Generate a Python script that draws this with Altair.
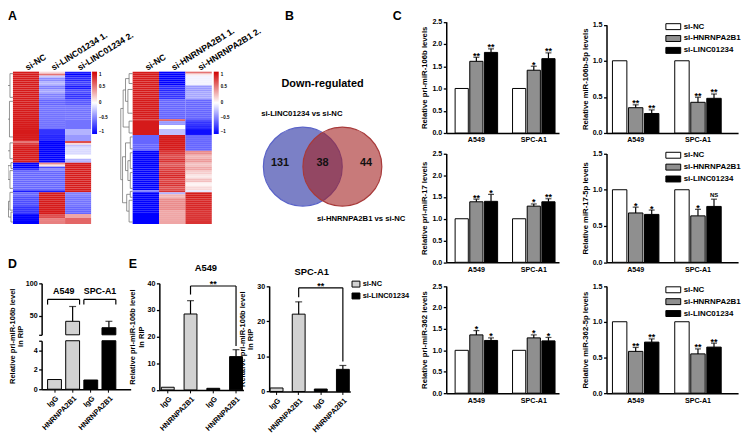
import altair as alt
import pandas as pd

# ------------------------------------------------------------------ data
HM1_COLS = ["si-NC", "si-LINC01234 1.", "si-LINC01234 2."]
HM1_ROWS = [1, 1, 1, 2, 2, 2, 2, 3, 3, 12, 3, 3, 1, 1, 1, 4, 2, 2, 1, 1, 1, 1, 10, 1, 2, 5, 4, 2, 3]
HM1_NC = [0.9, 0.9, 0.9, 0.9, 0.9, 0.9, 0.9, 0.9, 0.9, 0.9, 0.9, 0.9, 0.55, 0.75, 0.85, 0.9, 0.9, 0.9,
          -1, -1, -1, -0.8, -0.6, -0.9, -0.6, -0.7, -0.8, -1, -1]
HM1_K1 = [0.15, 0.55, -0.2, -0.45, -0.3, -0.5, -0.35, -0.5, -0.6, -0.55, -0.8, -0.85, -1, -1, -1, -1, -1, -1,
          0.45, 0.1, -0.7, -0.45, -0.6, -0.9, 0.9, 0.9, 0.9, 0.7, 0.5]
HM1_K2 = [-0.9, -1, -0.9, -0.85, -0.75, -0.9, -0.7, -0.8, -0.65, -0.55, -0.3, -0.4, 0.7, 0.15, -0.25, -0.15, 0.0, -0.3,
          0.9, 0.9, 0.9, 0.9, 0.9, 0.9, -0.5, -0.55, -0.6, 0.35, 0.6]
# dendrogram merges (row units): span y1..y2 joined at height h, children at heights h1 / h2
DEN1_Y1 = [1, 15, 7, 36, 15.5, 46, 50, 47.5, 61, 71, 65.5, 51, 27.75]
DEN1_Y2 = [13, 33, 24, 44, 40, 49, 59, 54.5, 70, 76, 73.5, 69.5, 60.25]
DEN1_H = [3, 3.5, 6, 3, 8, 2, 3, 5, 3, 2, 4.5, 7, 10]
DEN1_H1 = [0, 0, 3, 0, 6, 0, 0, 2, 0, 0, 3, 5, 8]
DEN1_H2 = [0, 0, 3.5, 0, 3, 0, 0, 3, 0, 0, 2, 4.5, 7]

HM2_COLS = ["si-NC", "si-HNRNPA2B1 1.", "si-HNRNPA2B1 2."]
HM2_ROWS = [1, 1, 5, 3, 4, 10, 1, 2, 2, 3, 8, 2, 2, 2, 2, 2, 2, 2, 2, 2, 2, 1, 1, 2, 6, 7]
HM2_NC = [0.9, 0.9, 0.9, 0.9, 0.9, 0.9, 0.8, 0.9, 0.9, 0.9, -0.6, -1, -1, -1, -1, -1, -1, -1, -1, -1, -1,
          -0.5, -1, -1, -1, -1]
HM2_K1 = [-1, -1, -1, -0.85, -0.8, -0.6, 0.6, -0.4, 0.0, -0.25, 0.9, 0.8, 0.7, 0.8, 0.65, 0.75, 0.8, 0.85, 0.75,
          0.8, 0.7, 0.8, -0.3, 0.3, 0.45, 0.35]
HM2_K2 = [0.55, 0.1, -0.05, -0.4, -0.35, -0.6, -0.7, -0.8, -0.85, -0.95, -0.6, 0.45, 0.3, 0.4, 0.25, 0.35, 0.2,
          0.1, 0.25, 0.05, 0.15, -0.1, 0.9, 0.9, 0.85, 0.8]
DEN2_Y1 = [1, 9, 3.5, 25, 9.25, 33, 41, 51, 45, 36, 60.5, 65, 62, 43, 18.6]
DEN2_Y2 = [6, 21, 15, 31, 28, 39, 49, 59, 55, 50, 63.5, 76, 70.5, 66.25, 54.6]
DEN2_H = [3, 4, 6, 3, 8, 2, 2, 2, 4, 6, 2, 3, 5, 8.5, 10]
DEN2_H1 = [0, 0, 3, 0, 6, 0, 0, 0, 2, 2, 0, 0, 2, 6, 8]
DEN2_H2 = [0, 0, 4, 0, 3, 0, 0, 0, 2, 4, 0, 0, 3, 5, 8.5]
HM_TICKS = [1, 0.5, 0, -0.5, -1]

VENN_TITLE = "Down-regulated"
VENN_SETS = ["si-LINC01234 vs si-NC", "si-HNRNPA2B1 vs si-NC"]
VENN_COUNTS = ["131", "38", "44"]

CELLS = ["A549", "SPC-A1"]
SI = ["si-NC", "si-HNRNPA2B1", "si-LINC01234"]
C_TITLES = ["Relative pri-miR-106b levels", "Relative miR-106b-5p levels",
            "Relative pri-miR-17 levels", "Relative miR-17-5p levels",
            "Relative pri-miR-362 levels", "Relative miR-362-5p levels"]
# order: A549 (NC, HNRNPA2B1, LINC01234), SPC-A1 (NC, HNRNPA2B1, LINC01234)
C_MEANS = [[1.0, 1.61, 1.81, 1.0, 1.41, 1.67],
           [1.0, 0.35, 0.27, 1.0, 0.425, 0.48],
           [1.0, 1.39, 1.40, 1.0, 1.29, 1.39],
           [1.0, 0.68, 0.66, 1.0, 0.64, 0.77],
           [1.0, 1.36, 1.23, 1.0, 1.29, 1.22],
           [1.0, 0.585, 0.715, 1.0, 0.55, 0.645]]
C_ERRS = [[0, 0.09, 0.08, 0, 0.09, 0.13],
          [0, 0.04, 0.05, 0, 0.07, 0.06],
          [0, 0.06, 0.16, 0, 0.05, 0.07],
          [0, 0.08, 0.06, 0, 0.09, 0.10],
          [0, 0.10, 0.06, 0, 0.07, 0.08],
          [0, 0.055, 0.045, 0, 0.07, 0.055]]
C_SIGS = [["", "**", "**", "", "*", "**"],
          ["", "**", "**", "", "**", "**"],
          ["", "**", "*", "", "*", "**"],
          ["", "*", "*", "", "*", "NS"],
          ["", "*", "*", "", "*", "*"],
          ["", "**", "**", "", "**", "**"]]

RIP_AB = ["IgG", "HNRNPA2B1", "IgG", "HNRNPA2B1"]
RIP_TITLE = ["Relative pri-miR-106b level", "In RIP"]
D_CELL = ["A549", "A549", "SPC-A1", "SPC-A1"]
D_MEAN = [1.0, 41.0, 0.95, 31.0]
D_ERR = [0, 23.0, 0, 10.0]

E_SI = ["si-NC", "si-NC", "si-LINC01234", "si-LINC01234"]
E_LEGEND = ["si-NC", "si-LINC01234"]
E_TITLES = ["A549", "SPC-A1"]
E1_MEAN = [1.0, 28.5, 0.6, 12.5]
E1_ERR = [0, 5.0, 0, 2.6]
E2_MEAN = [1.0, 22.0, 0.7, 6.3]
E2_ERR = [0, 3.5, 0, 1.1]

# ------------------------------------------------------------------ layout / style
W, H = 746, 433
FONT = "Liberation Sans"
GRAY = "#8f8f8f"
LIGHT = "#d2d2d2"
N_ROWS = 77


def ax_left(x, title=None, values=None, **kw):
    d = dict(orient="left", offset=-x, title=title, values=values, tickSize=3, tickWidth=1.3,
             domainWidth=1.5, labelFontSize=7.2, titleFontSize=7.8, labelPadding=1.5,
             titlePadding=3, grid=False, labelOverlap=False)
    d.update(kw)
    return alt.Axis(**d)


def ax_bottom(y, **kw):
    d = dict(orient="bottom", offset=y - H, title=None, domainWidth=1.5, labelFontSize=7.2,
             labelPadding=3, grid=False, labelOverlap=False)
    d.update(kw)
    return alt.Axis(**d)


def text_at(txt, x, y, size, align="left", baseline="top"):
    return alt.Chart(pd.DataFrame({"t": [txt]})).mark_text(
        fontSize=size, fontWeight="bold", align=align, baseline=baseline, font=FONT, color="black"
    ).encode(x=alt.value(x), y=alt.value(y), text="t:N")


# ------------------------------------------------------------------ A: heatmaps
def hm_frame(cols, rows, a, b, c):
    recs, r = [], 0
    for n, va, vb, vc in zip(rows, a, b, c):
        for _ in range(n):
            for col, v in zip(cols, (va, vb, vc)):
                recs.append({"row": r, "col": col, "v": v})
            r += 1
    return pd.DataFrame(recs)


def heatmap(df, cols, xr, yr, lx, ly):
    cs = alt.Scale(domain=[-1, 0, 1], range=["#0000ff", "#ffffff", "#d00000"], interpolate="rgb")
    return alt.Chart(df).mark_rect(strokeWidth=0).encode(
        x=alt.X("col:N", sort=cols,
                scale=alt.Scale(domain=cols, range=xr, paddingInner=0, paddingOuter=0),
                axis=alt.Axis(orient="top", offset=-yr[0], title=None, domain=False, ticks=False,
                              labelAngle=-32, labelAlign="left", labelBaseline="middle",
                              labelFontSize=8.8, labelPadding=4, labelOverlap=False)),
        y=alt.Y("row:O", scale=alt.Scale(range=yr, paddingInner=0, paddingOuter=0), axis=None),
        color=alt.Color("v:Q", scale=cs,
                        legend=alt.Legend(type="gradient", orient="none", legendX=lx, legendY=ly,
                                          direction="vertical", title=None, gradientLength=63,
                                          gradientThickness=5, values=HM_TICKS, format="~g",
                                          labelFontSize=4.5, labelOffset=2, labelOverlap=False,
                                          gradientStrokeWidth=0)),
    )


def dendrogram(y1, y2, h, h1, h2, xr, yr):
    segs = []
    for a, b, hh, ha, hb in zip(y1, y2, h, h1, h2):
        segs.append({"x": hh, "x2": hh, "y": a, "y2": b})
        segs.append({"x": ha, "x2": hh, "y": a, "y2": a})
        segs.append({"x": hb, "x2": hh, "y": b, "y2": b})
    return alt.Chart(pd.DataFrame(segs)).mark_rule(color="#666", strokeWidth=0.7).encode(
        x=alt.X("x:Q", scale=alt.Scale(domain=[0, 10], range=xr, nice=False), axis=None),
        x2="x2:Q",
        y=alt.Y("y:Q", scale=alt.Scale(domain=[0, N_ROWS], range=yr, nice=False), axis=None),
        y2="y2:Q")


hm1 = heatmap(hm_frame(HM1_COLS, HM1_ROWS, HM1_NC, HM1_K1, HM1_K2), HM1_COLS, [5, 84], [62, 216], 85, 62)
hm2 = heatmap(hm_frame(HM2_COLS, HM2_ROWS, HM2_NC, HM2_K1, HM2_K2), HM2_COLS, [126, 206], [62, 216], 208, 62)
den1 = dendrogram(DEN1_Y1, DEN1_Y2, DEN1_H, DEN1_H1, DEN1_H2, [5, -5], [62, 216])
den2 = dendrogram(DEN2_Y1, DEN2_Y2, DEN2_H, DEN2_H1, DEN2_H2, [126, 114], [62, 216])

# ------------------------------------------------------------------ B: Venn
vx = alt.Scale(domain=[-4, 4], range=[238, 398], nice=False, zero=False)
vy = alt.Scale(domain=[-4, 4], range=[238, 78], nice=False, zero=False)
venn_sets = pd.DataFrame({"set": VENN_SETS, "cx": [-1, 1]})
circles = alt.Chart(venn_sets).mark_circle(size=6360, strokeWidth=1.2, opacity=1).encode(
    x=alt.X("cx:Q", scale=vx, axis=None),
    y=alt.YDatum(0, type="quantitative", scale=vy, axis=None),
    fill=alt.Fill("set:N", scale=alt.Scale(domain=VENN_SETS, range=["#7b80c6", "#a32121"]), legend=None),
    fillOpacity=alt.FillOpacity("set:N", scale=alt.Scale(domain=VENN_SETS, range=[1, 0.6]), legend=None),
    stroke=alt.Stroke("set:N", scale=alt.Scale(domain=VENN_SETS, range=["#5a63c8", "#a83a3a"]), legend=None),
)
venn_counts = pd.DataFrame({"t": VENN_COUNTS, "x": [-2.15, 0, 2.2], "y": [0.2, 0.2, 0.2]})
counts = alt.Chart(venn_counts).mark_text(fontSize=11, fontWeight="bold", font=FONT, color="#111").encode(
    x=alt.X("x:Q", scale=vx, axis=None), y=alt.Y("y:Q", scale=vy, axis=None), text="t:N")
venn_labels = pd.DataFrame({"t": VENN_SETS + [VENN_TITLE], "x": [-1.05, 1.95, 0], "y": [2.65, -2.65, 4.15],
                            "s": ["set", "set", "title"]})
vlab = alt.Chart(venn_labels).transform_filter("datum.s == 'set'").mark_text(
    fontSize=7.8, fontWeight="bold", font=FONT, color="black").encode(
    x=alt.X("x:Q", scale=vx, axis=None), y=alt.Y("y:Q", scale=vy, axis=None), text="t:N")
vtitle = alt.Chart(venn_labels).transform_filter("datum.s == 'title'").mark_text(
    fontSize=11, fontWeight="bold", font=FONT, color="black").encode(
    x=alt.X("x:Q", scale=vx, axis=None), y=alt.Y("y:Q", scale=vy, axis=None), text="t:N")
venn = alt.layer(circles, counts, vlab, vtitle)


# ------------------------------------------------------------------ C: bar panels
def c_panel(i, xr, yr, ymax, right, legend_y=None):
    df = pd.DataFrame({"cell": [c for c in CELLS for _ in SI], "si": SI * 2,
                       "mean": C_MEANS[i], "err": C_ERRS[i], "sig": C_SIGS[i]})
    df["top"] = df["mean"] + df["err"]
    if right:
        pi, po, al = 0.254, 0.183, 0.26
    else:
        pi, po, al = 0.26, 0.112, 0.69
    xs = alt.Scale(domain=CELLS, range=xr, paddingInner=pi, paddingOuter=po, align=al)
    x = alt.X("cell:N", scale=xs, axis=ax_bottom(yr[0], labelAngle=0, ticks=False))
    xo = alt.XOffset("si:N", scale=alt.Scale(domain=SI, paddingInner=0.1, paddingOuter=0))
    vals = [v * 0.5 for v in range(int(ymax * 2) + 1)]
    ys = alt.Scale(domain=[0, ymax], range=yr, nice=False, zero=True)
    if legend_y is not None:
        leg = alt.Legend(orient="none", legendX=668, legendY=legend_y, title=None,
                         symbolType="M-2,-0.8H2V0.8H-2Z", symbolSize=56.25, symbolStrokeColor="black",
                         symbolStrokeWidth=1, labelFontSize=8, labelOffset=6, rowPadding=1)
    else:
        leg = None
    base = alt.Chart(df)
    bars = base.mark_bar(stroke="black", strokeWidth=1).encode(
        x=x, xOffset=xo,
        y=alt.Y("mean:Q", scale=ys, stack=None, axis=ax_left(xr[0], C_TITLES[i], vals, format=".1f")),
        fill=alt.Fill("si:N", scale=alt.Scale(domain=SI, range=["white", GRAY, "black"]), legend=leg),
    )
    eb = base.transform_filter("datum.err > 0")
    err = eb.mark_rule(color="black", strokeWidth=1.2).encode(
        x="cell:N", xOffset="si:N", y="mean:Q", y2="top:Q")
    cap = eb.mark_tick(orient="horizontal", size=6, thickness=1.2, color="black").encode(
        x="cell:N", xOffset="si:N", y="top:Q")
    stars = base.transform_filter("datum.sig != '' && datum.sig != 'NS'").mark_text(
        fontSize=9, fontWeight="bold", font=FONT, baseline="alphabetic", dy=1.5, color="black").encode(
        x="cell:N", xOffset="si:N", y="top:Q", text="sig:N")
    ns = base.transform_filter("datum.sig == 'NS'").mark_text(
        fontSize=6, fontWeight="bold", font=FONT, baseline="alphabetic", dy=-2.5, color="black").encode(
        x="cell:N", xOffset="si:N", y="top:Q", text="sig:N")
    return alt.layer(bars, err, cap, stars, ns)


LX, RX = [443, 557], [605, 738]
c_panels = [
    c_panel(0, LX, [124, 11.5], 2.5, False),
    c_panel(1, RX, [124, 14.5], 1.5, True, 12),
    c_panel(2, LX, [254.7, 144.7], 2.5, False),
    c_panel(3, RX, [254.7, 144.7], 1.5, True, 142),
    c_panel(4, LX, [387, 278.7], 2.5, False),
    c_panel(5, RX, [387, 278.7], 1.5, True, 278),
]

# ------------------------------------------------------------------ D: broken-axis RIP
d_keys = [f"{a}|{c}" for a, c in zip(RIP_AB, D_CELL)]
d_df = pd.DataFrame({"key": d_keys, "cell": D_CELL, "mean": D_MEAN, "err": D_ERR})
d_df["top"] = d_df["mean"] + d_df["err"]
d_xs = alt.Scale(domain=d_keys, range=[34, 124], paddingInner=0.236, paddingOuter=0.573, align=0.286)
d_fill = alt.Fill("cell:N", scale=alt.Scale(domain=CELLS, range=[LIGHT, "black"]), legend=None)
lab_expr = "split(datum.label, '|')[0]"
d_x = alt.X("key:N", scale=d_xs,
            axis=ax_bottom(383, labelAngle=-45, labelExpr=lab_expr, labelFontSize=7.5, tickSize=3, labelPadding=2))
low_s = alt.Scale(domain=[0, 5], range=[383, 334], nice=False)
up_s = alt.Scale(domain=[20, 100], range=[328, 276], nice=False, zero=False)
d_low = alt.Chart(d_df).transform_calculate(low="min(datum.mean, 5)").mark_bar(
    stroke="black", strokeWidth=1).encode(
    x=d_x,
    y=alt.Y("low:Q", scale=low_s, stack=None,
            axis=ax_left(34, None, [0, 2, 4, 5], labelExpr="datum.value == 5 ? '' : datum.label")),
    fill=d_fill)
d_up_base = alt.Chart(d_df).transform_filter("datum.mean > 20")
d_up = d_up_base.mark_bar(stroke="black", strokeWidth=1).encode(
    x="key:N",
    y=alt.Y("mean:Q", scale=up_s, stack=None,
            axis=ax_left(34, RIP_TITLE, [20, 50, 100], labelExpr="datum.value == 20 ? '' : datum.label",
                         titleY=329, titleFontSize=7.6, titlePadding=0.5, titleLineHeight=8.5)),
    y2=alt.Y2Datum(20),
    fill=d_fill)
d_err = d_up_base.mark_rule(color="black", strokeWidth=1.2).encode(x="key:N", y="mean:Q", y2="top:Q")
d_cap = d_up_base.mark_tick(orient="horizontal", size=7, thickness=1.2, color="black").encode(
    x="key:N", y="top:Q")
br_df = pd.DataFrame({"cell": CELLS, "left": [d_keys[0], d_keys[2]], "right": [d_keys[1], d_keys[3]]})
br = alt.Chart(br_df)
br_h = br.mark_rule(color="black", strokeWidth=1.2).encode(
    x=alt.X("left:N", bandPosition=0), x2=alt.X2("right:N", bandPosition=1),
    y=alt.YDatum(75, type="quantitative"))
br_l = br.mark_rule(color="black", strokeWidth=1.2).encode(
    x=alt.X("left:N", bandPosition=0), y=alt.YDatum(75, type="quantitative"), y2=alt.Y2Datum(67))
br_r = br.mark_rule(color="black", strokeWidth=1.2).encode(
    x=alt.X("right:N", bandPosition=1), y=alt.YDatum(75, type="quantitative"), y2=alt.Y2Datum(67))
br_t = br.mark_text(fontSize=9, fontWeight="bold", font=FONT, baseline="bottom", dx=-2, color="black").encode(
    x=alt.X("right:N", bandPosition=0), y=alt.YDatum(80, type="quantitative"), text="cell:N")
d_panel = alt.layer(d_low, alt.layer(d_up, d_err, d_cap, br_h, br_l, br_r, br_t)).resolve_scale(y="independent")


# ------------------------------------------------------------------ E: RIP after knockdown
def e_panel(means, errs, xr, yr, ymax, pi, po, al, level, left_end, right_end, legend_xy=None):
    keys = [f"{a}|{s}" for a, s in zip(RIP_AB, E_SI)]
    df = pd.DataFrame({"key": keys, "si": E_SI, "mean": means, "err": errs})
    df["top"] = df["mean"] + df["err"]
    xs = alt.Scale(domain=keys, range=xr, paddingInner=pi, paddingOuter=po, align=al)
    ys = alt.Scale(domain=[0, ymax], range=yr, nice=False)
    if legend_xy:
        leg = alt.Legend(orient="none", legendX=legend_xy[0], legendY=legend_xy[1], title=None,
                         symbolType="M-2,-1.5H2V1.5H-2Z", symbolSize=16, symbolStrokeColor="black",
                         symbolStrokeWidth=1, labelFontSize=7.5, labelOffset=3, rowPadding=1)
    else:
        leg = None
    base = alt.Chart(df)
    bars = base.mark_bar(stroke="black", strokeWidth=1).encode(
        x=alt.X("key:N", scale=xs,
                axis=ax_bottom(yr[0], labelAngle=-45, labelExpr=lab_expr, labelFontSize=7.5, tickSize=3,
                               labelPadding=2)),
        y=alt.Y("mean:Q", scale=ys, stack=None,
                axis=ax_left(xr[0], RIP_TITLE, list(range(0, ymax + 1, 10)), titleFontSize=7.6,
                             titlePadding=2, titleLineHeight=8.5)),
        fill=alt.Fill("si:N", scale=alt.Scale(domain=E_LEGEND, range=[LIGHT, "black"]), legend=leg))
    eb = base.transform_filter("datum.err > 0")
    err = eb.mark_rule(color="black", strokeWidth=1.2).encode(x="key:N", y="mean:Q", y2="top:Q")
    cap = eb.mark_tick(orient="horizontal", size=7, thickness=1.2, color="black").encode(x="key:N", y="top:Q")
    bdf = pd.DataFrame({"a": [keys[1]], "b": [keys[3]], "mid": [keys[2]], "sig": ["**"]})
    bb = alt.Chart(bdf)
    bh = bb.mark_rule(color="black", strokeWidth=1.2).encode(
        x="a:N", x2="b:N", y=alt.YDatum(level, type="quantitative"))
    bl = bb.mark_rule(color="black", strokeWidth=1.2).encode(
        x="a:N", y=alt.YDatum(level, type="quantitative"), y2=alt.Y2Datum(left_end))
    brr = bb.mark_rule(color="black", strokeWidth=1.2).encode(
        x="b:N", y=alt.YDatum(level, type="quantitative"), y2=alt.Y2Datum(right_end))
    bt = bb.mark_text(fontSize=9, fontWeight="bold", font=FONT, baseline="alphabetic", dy=1, color="black").encode(
        x="mid:N", y=alt.YDatum(level, type="quantitative"), text="sig:N")
    return alt.layer(bars, err, cap, bh, bl, brr, bt)


e1 = e_panel(E1_MEAN, E1_ERR, [153, 238], [383.7, 276], 40, 0.435, 0.065, 0.667, 39, 35.8, 16.5)
e2 = e_panel(E2_MEAN, E2_ERR, [264, 346], [385.3, 278.7], 30, 0.418, 0.045, 0.5, 29.5, 26.8, 8.5,
             legend_xy=(348, 273))

# ------------------------------------------------------------------ panel letters / titles
letters = [text_at("A", 0, 0, 12.5), text_at("B", 280, 0, 12.5), text_at("C", 389, 0, 12.5),
           text_at("D", 0, 250, 12.5), text_at("E", 122, 250, 12.5)]
e_titles = [text_at(E_TITLES[0], 200, 261, 9.5, align="center", baseline="middle"),
            text_at(E_TITLES[1], 307, 265, 9.5, align="center", baseline="middle")]

layers = [hm1, hm2, den1, den2, venn] + c_panels + [d_panel, e1, e2] + letters + e_titles

chart = alt.layer(*layers).resolve_scale(
    x="independent", y="independent", xOffset="independent", color="independent",
    fill="independent", stroke="independent", fillOpacity="independent",
).resolve_axis(x="independent", y="independent").resolve_legend(
    color="independent", fill="independent", stroke="independent", fillOpacity="independent",
).properties(
    width=W, height=H, padding=0, autosize=alt.AutoSizeParams(type="none"),
).configure_view(stroke=None).configure_axis(
    labelFont=FONT, titleFont=FONT, labelFontWeight="bold", titleFontWeight="bold",
    labelColor="black", titleColor="black", domainColor="black", tickColor="black",
).configure_legend(labelFont=FONT, labelFontWeight="bold", labelColor="black")

chart.save("out.html", embed_options={"renderer": "svg", "actions": False})
